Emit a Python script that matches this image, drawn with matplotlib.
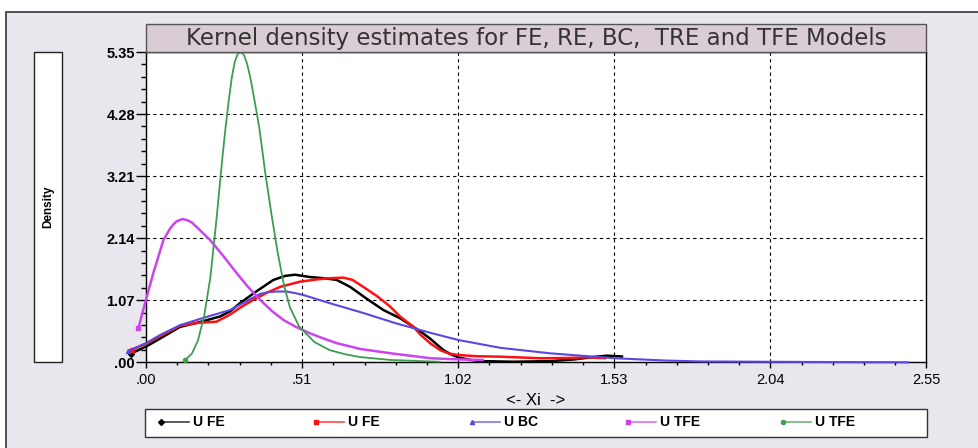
import matplotlib
matplotlib.use("Agg")
import matplotlib.pyplot as plt
from matplotlib.patches import Rectangle
from matplotlib.lines import Line2D

# ============================================================
# Data
# ============================================================
X_TICKS = [0.0, 0.51, 1.02, 1.53, 2.04, 2.55]
X_TICK_LABELS = [".00", ".51", "1.02", "1.53", "2.04", "2.55"]
Y_TICKS = [0.0, 1.07, 2.14, 3.21, 4.28, 5.35]
Y_TICK_LABELS = [".00", "1.07", "2.14", "3.21", "4.28", "5.35"]

fe_x = [-0.05, 0.0, 0.046, 0.111, 0.18, 0.242, 0.275, 0.307, 0.36, 0.416, 0.455,
        0.487, 0.536, 0.58, 0.623, 0.667, 0.72, 0.776, 0.83, 0.874, 0.905, 0.928,
        0.952, 0.972, 0.995, 1.02, 1.06, 1.10, 1.20, 1.32, 1.40, 1.46, 1.506, 1.555]
fe_y = [0.15, 0.27, 0.41, 0.61, 0.70, 0.79, 0.88, 1.02, 1.22, 1.42, 1.49,
        1.51, 1.47, 1.45, 1.42, 1.30, 1.10, 0.90, 0.76, 0.61, 0.50, 0.41,
        0.30, 0.21, 0.14, 0.085, 0.04, 0.02, 0.01, 0.02, 0.05, 0.09, 0.115, 0.10]

re_x = [-0.045, 0.0, 0.046, 0.111, 0.17, 0.23, 0.274, 0.31, 0.35, 0.395, 0.438,
        0.503, 0.56, 0.60, 0.645, 0.675, 0.71, 0.755, 0.798, 0.83, 0.874, 0.896,
        0.928, 0.961, 0.99, 1.02, 1.08, 1.157, 1.288, 1.38, 1.44, 1.50]
re_y = [0.22, 0.32, 0.45, 0.63, 0.68, 0.70, 0.82, 0.95, 1.075, 1.20, 1.30,
        1.39, 1.43, 1.45, 1.46, 1.42, 1.30, 1.14, 0.96, 0.79, 0.61, 0.48,
        0.33, 0.21, 0.15, 0.126, 0.105, 0.097, 0.07, 0.075, 0.085, 0.07]

bc_x = [-0.058, 0.0, 0.046, 0.111, 0.19, 0.274, 0.373, 0.40, 0.427, 0.46, 0.49,
        0.514, 0.60, 0.71, 0.818, 0.928, 1.02, 1.157, 1.32, 1.53, 1.70, 1.81,
        2.0, 2.2, 2.49]
bc_y = [0.195, 0.33, 0.47, 0.64, 0.77, 0.90, 1.18, 1.21, 1.22, 1.22, 1.19,
        1.16, 1.02, 0.85, 0.67, 0.51, 0.385, 0.25, 0.155, 0.07, 0.03, 0.015,
        0.01, 0.005, 0.0]

tre_x = [-0.025, 0.0, 0.024, 0.057, 0.078, 0.09, 0.10, 0.119, 0.135, 0.15, 0.17,
         0.209, 0.25, 0.296, 0.335, 0.373, 0.41, 0.449, 0.49, 0.536, 0.58, 0.623,
         0.70, 0.80, 0.93, 1.02, 1.10]
tre_y = [0.59, 1.08, 1.54, 2.11, 2.30, 2.38, 2.43, 2.47, 2.45, 2.41, 2.31,
         2.11, 1.85, 1.54, 1.29, 1.075, 0.89, 0.73, 0.61, 0.50, 0.41, 0.33,
         0.23, 0.155, 0.07, 0.05, 0.04]

tfe_x = [0.128, 0.15, 0.17, 0.19, 0.21, 0.23, 0.25, 0.26, 0.27, 0.28, 0.29, 0.30,
         0.31, 0.32, 0.33, 0.34, 0.35, 0.37, 0.39, 0.41, 0.43, 0.45, 0.47, 0.50,
         0.55, 0.60, 0.65, 0.70, 0.80, 0.90, 0.96]
tfe_y = [0.04, 0.15, 0.38, 0.80, 1.45, 2.45, 3.55, 4.05, 4.50, 4.90, 5.18, 5.32,
         5.35, 5.30, 5.15, 4.93, 4.65, 4.05, 3.25, 2.55, 1.90, 1.35, 0.95, 0.62,
         0.35, 0.21, 0.14, 0.09, 0.04, 0.02, 0.01]

SERIES = [
    ("U FE", fe_x, fe_y, "#000000", "D", 1.8),
    ("U FE", re_x, re_y, "#ff1010", "s", 1.8),
    ("U BC", bc_x, bc_y, "#5a48e0", "^", 1.5),
    ("U TFE", tre_x, tre_y, "#cc44ee", "s", 1.8),
    ("U TFE", tfe_x, tfe_y, "#3e9e50", "o", 1.3),
]

W, H = 979, 448
BG = "#e8e7ee"


def fx(px):
    return px / W


def fy(py):
    return 1 - py / H


# ============================================================
# Figure
# ============================================================
fig = plt.figure(figsize=(W / 100, H / 100), dpi=100, facecolor="white")
plt.rcParams["font.family"] = ["Liberation Sans", "DejaVu Sans"]

# outer panel
fig.add_artist(Rectangle((fx(6.5), fy(460)), fx(990), 1, transform=fig.transFigure,
                         facecolor=BG, edgecolor="#444444", linewidth=1.3, zorder=0))

ax_l, ax_r, ax_t, ax_b = 146, 926.5, 52, 362.3
ax = fig.add_axes([fx(ax_l), fy(ax_b), fx(ax_r - ax_l), (ax_b - ax_t) / H])
ax.set_facecolor("white")

for name, xs, ys, color, mk, lw in SERIES:
    ax.plot(xs, ys, color=color, linewidth=lw, marker=mk, markersize=3,
            markevery=[0], clip_on=False, zorder=3, solid_joinstyle="round")

ax.set_xlim(0, 2.55)
ax.set_ylim(0, 5.35)
ax.set_xticks(X_TICKS)
ax.set_xticklabels(X_TICK_LABELS, fontsize=10.5)
ax.set_yticks(Y_TICKS)
ax.set_yticklabels(Y_TICK_LABELS, fontsize=10.5, fontweight="bold")
ax.set_xticks([i * 0.102 for i in range(26)], minor=True)
ax.set_yticks([i * 0.214 for i in range(26)], minor=True)
ax.tick_params(axis="x", which="major", length=4, width=1, pad=4)
ax.tick_params(axis="x", which="minor", length=2.5, width=1)
ax.tick_params(axis="y", which="major", length=7, width=1, pad=1)
ax.tick_params(axis="y", which="minor", length=3.5, width=1)
ax.grid(True, which="major", color="black", linestyle=(0, (3, 3)), linewidth=0.8)
for sp in ax.spines.values():
    sp.set_linewidth(1.0)

# title band
fig.add_artist(Rectangle((fx(ax_l), fy(ax_t)), fx(ax_r - ax_l), (ax_t - 24) / H,
                         transform=fig.transFigure, facecolor="#d9ccd5",
                         edgecolor="#555555", linewidth=1.0, zorder=1))
fig.text(fx(536), fy(39), "Kernel density estimates for FE, RE, BC,  TRE and TFE Models",
         ha="center", va="center", fontsize=16.5, color="#333333", zorder=5,
         family="DejaVu Sans")

# y-label box
fig.add_artist(Rectangle((fx(34), fy(362)), fx(28), 310 / H, transform=fig.transFigure,
                         facecolor="white", edgecolor="#222222", linewidth=1.0, zorder=1))
fig.text(fx(48), fy(207), "Density", rotation=90, ha="center", va="center",
         fontsize=8.5, fontweight="bold", zorder=5)

# x label
fig.text(fx(536), fy(400), "<- Xi  ->", ha="center", va="center", fontsize=12)

# legend box, drawn by hand
fig.add_artist(Rectangle((fx(145), fy(437)), fx(782), 28 / H, transform=fig.transFigure,
                         facecolor="white", edgecolor="#333333", linewidth=1.0, zorder=1))
leg_x = [161, 316, 472, 628, 783]
for px, (name, xs, ys, color, mk, lw) in zip(leg_x, SERIES):
    fig.add_artist(Line2D([fx(px), fx(px + 28)], [fy(422), fy(422)],
                          transform=fig.transFigure, color=color, linewidth=1.2,
                          alpha=0.75, zorder=2))
    fig.add_artist(Line2D([fx(px)], [fy(422)], transform=fig.transFigure, color=color,
                          marker=mk, markersize=3, linestyle="none", zorder=3))
    fig.text(fx(px + 32), fy(422), name, ha="left", va="center", fontsize=10,
             fontweight="bold", zorder=4)

plt.savefig("out.png", dpi=100)
